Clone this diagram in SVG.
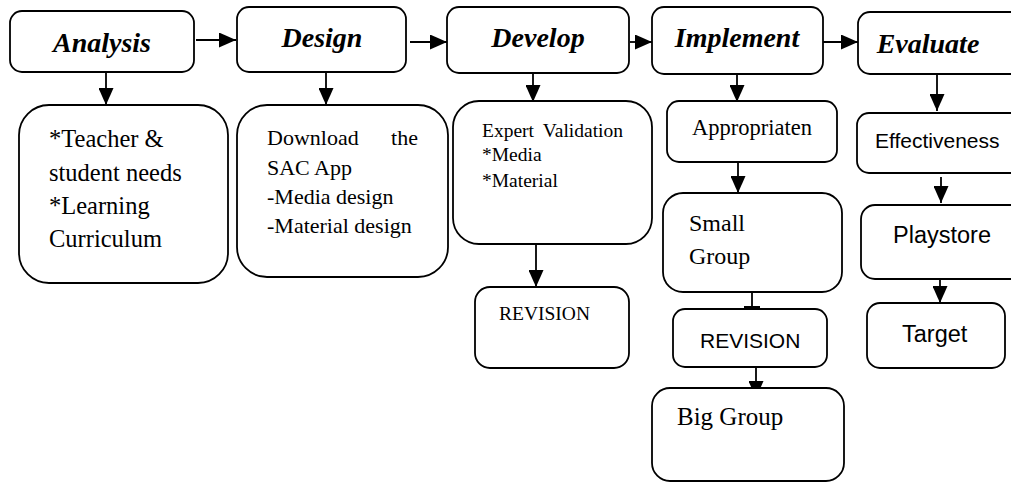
<svg xmlns="http://www.w3.org/2000/svg" width="1011" height="482" viewBox="0 0 1011 482">
<style>
.box{fill:#fff;stroke:#000;stroke-width:1.8}
.hd{font-family:"Liberation Serif",serif;font-style:italic;font-weight:bold;font-size:28px;fill:#000;text-anchor:middle}
.sf{font-family:"Liberation Serif",serif;fill:#000}
.ss{font-family:"Liberation Sans",Arial,sans-serif;fill:#000}
.ln{stroke:#000;stroke-width:1.8;fill:none}
</style>
<defs>
<marker id="ah" viewBox="0 0 10 10" refX="10" refY="5" markerWidth="17" markerHeight="15" markerUnits="userSpaceOnUse" orient="auto" preserveAspectRatio="none">
<path d="M0,0 L10,5 L0,10 Z" fill="#000"/>
</marker>
</defs>
<rect width="1011" height="482" fill="#fff"/>
<g id="connectors">
<line class="ln" x1="196" y1="40" x2="236" y2="40" marker-end="url(#ah)"/>
<line class="ln" x1="410" y1="42" x2="447" y2="42" marker-end="url(#ah)"/>
<line class="ln" x1="630" y1="42" x2="652" y2="42" marker-end="url(#ah)"/>
<line class="ln" x1="819" y1="42" x2="858" y2="42" marker-end="url(#ah)"/>
<line class="ln" x1="106" y1="72" x2="106" y2="105" marker-end="url(#ah)"/>
<line class="ln" x1="326" y1="72" x2="326" y2="105" marker-end="url(#ah)"/>
<line class="ln" x1="533" y1="73" x2="533" y2="102" marker-end="url(#ah)"/>
<line class="ln" x1="737" y1="74" x2="737" y2="102" marker-end="url(#ah)"/>
<line class="ln" x1="937" y1="75" x2="937" y2="111" marker-end="url(#ah)"/>
<line class="ln" x1="536" y1="244" x2="536" y2="287" marker-end="url(#ah)"/>
<line class="ln" x1="738" y1="158" x2="738" y2="193" marker-end="url(#ah)"/>
<line class="ln" x1="752" y1="292" x2="752" y2="308"/>
<line x1="744" y1="307.5" x2="760" y2="307.5" stroke="#000" stroke-width="3"/>
<line class="ln" x1="756" y1="367" x2="756" y2="398" marker-end="url(#ah)"/>
<line class="ln" x1="941" y1="177" x2="941" y2="203" marker-end="url(#ah)"/>
<line class="ln" x1="940" y1="263" x2="940" y2="303" marker-end="url(#ah)"/>
</g>
<g id="analysis">
<rect class="box" x="10" y="11" width="184" height="61" rx="12"/>
<text class="hd" x="102" y="52">Analysis</text>
</g>
<g id="design">
<rect class="box" x="237" y="7" width="169" height="65" rx="12"/>
<text class="hd" x="322" y="47">Design</text>
</g>
<g id="develop">
<rect class="box" x="447" y="7" width="182" height="66" rx="12"/>
<text class="hd" x="538" y="47">Develop</text>
</g>
<g id="implement">
<rect class="box" x="652" y="7" width="171" height="67" rx="12"/>
<text class="hd" x="737" y="47">Implement</text>
</g>
<g id="evaluate">
<rect class="box" x="858" y="12" width="170" height="62" rx="12"/>
<text class="hd" x="928" y="53">Evaluate</text>
</g>
<g id="analysis-needs">
<rect class="box" x="19" y="105" width="209" height="178" rx="30"/>
<text class="sf" font-size="24.5" x="49"><tspan x="49" y="147">*Teacher &amp;</tspan><tspan x="49" y="181">student needs</tspan><tspan x="49" y="214">*Learning</tspan><tspan x="49" y="247">Curriculum</tspan></text>
</g>
<g id="design-steps">
<rect class="box" x="237" y="105" width="211" height="172" rx="30"/>
<text class="sf" font-size="22"><tspan x="267" y="145">Download</tspan><tspan x="418" y="145" text-anchor="end">the</tspan><tspan x="267" y="175">SAC App</tspan><tspan x="267" y="204">-Media design</tspan><tspan x="267" y="233">-Material design</tspan></text>
</g>
<g id="expert-validation">
<rect class="box" x="453" y="101" width="199" height="143" rx="26"/>
<text class="sf" font-size="19.5"><tspan x="482" y="137">Expert</tspan><tspan x="623" y="137" text-anchor="end">Validation</tspan><tspan x="482" y="161">*Media</tspan><tspan x="482" y="187">*Material</tspan></text>
</g>
<g id="revision-develop">
<rect class="box" x="475" y="287" width="154" height="81" rx="15"/>
<text class="sf" font-size="19.5" x="499" y="320">REVISION</text>
</g>
<g id="appropriaten">
<rect class="box" x="667" y="101" width="170" height="61" rx="12"/>
<text class="sf" font-size="22.5" x="692" y="135">Appropriaten</text>
</g>
<g id="small-group">
<rect class="box" x="663" y="193" width="179" height="99" rx="20"/>
<text class="sf" font-size="24"><tspan x="689" y="231">Small</tspan><tspan x="689" y="264">Group</tspan></text>
</g>
<g id="revision-implement">
<rect class="box" x="673" y="309" width="154" height="58" rx="12"/>
<text class="ss" font-size="21" x="700" y="348">REVISION</text>
</g>
<g id="big-group">
<rect class="box" x="652" y="388" width="192" height="93" rx="18"/>
<text class="sf" font-size="25" x="677" y="425">Big Group</text>
</g>
<g id="effectiveness">
<rect class="box" x="857" y="113" width="170" height="60" rx="12"/>
<text class="ss" font-size="21" x="875" y="148">Effectiveness</text>
</g>
<g id="playstore">
<rect class="box" x="861" y="205" width="170" height="74" rx="14"/>
<text class="ss" font-size="23.5" x="893" y="243">Playstore</text>
</g>
<g id="target">
<rect class="box" x="867" y="303" width="138" height="65" rx="13"/>
<text class="ss" font-size="23.5" x="902" y="342">Target</text>
</g>
</svg>
